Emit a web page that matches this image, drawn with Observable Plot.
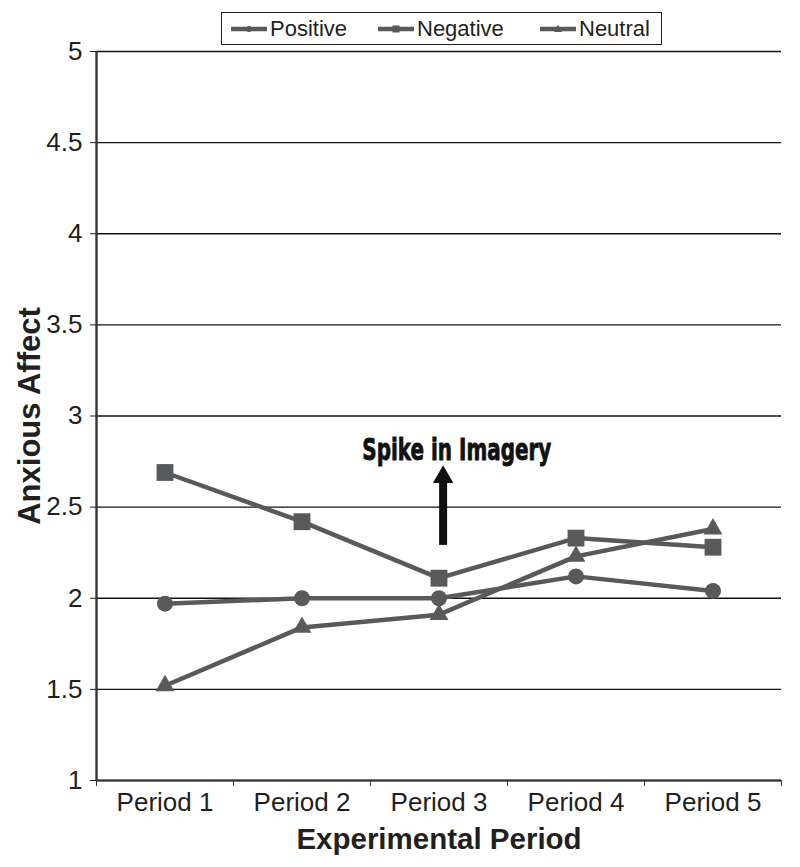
<!DOCTYPE html>
<html>
<head>
<meta charset="utf-8">
<script src="https://cdn.jsdelivr.net/npm/d3@7"></script>
<script src="https://cdn.jsdelivr.net/npm/@observablehq/plot@0.6"></script>
<style>
  body { margin: 0; background: #fff; font-family: "Liberation Sans", Arial, sans-serif; color: #231f20; }
  #legend { position: relative; width: 800px; height: 46px; }
  #legend .box { position: absolute; left: 221px; top: 12px; width: 439px; height: 31px; border: 1.5px solid #231f20; }
  #legend .item { position: absolute; top: 0; height: 31px; display: flex; align-items: center; font-size: 22px; }
  #legend svg { display: block; margin-right: 3px; }
  #chart svg { display: block; }
</style>
</head>
<body>
<div id="legend"><div class="box"></div></div>
<div id="chart"></div>
<script>
const periods = ["Period 1", "Period 2", "Period 3", "Period 4", "Period 5"];
const seriesNames = ["Positive", "Negative", "Neutral"];
const positive = [1.97, 2.00, 2.00, 2.12, 2.04];
const negative = [2.69, 2.42, 2.11, 2.33, 2.28];
const neutral  = [1.52, 1.84, 1.91, 2.23, 2.38];
const yTicks = [1, 1.5, 2, 2.5, 3, 3.5, 4, 4.5, 5];
const annotationText = "Spike in Imagery";
const xLabel = "Experimental Period";
const yLabel = "Anxious Affect";

const gray = "#58595b";
const ink = "#231f20";
const symbols = {Positive: "circle", Negative: "square", Neutral: "triangle"};
const radii = {Positive: 8, Negative: 9.5, Neutral: 7};
const valuesBySeries = {Positive: positive, Negative: negative, Neutral: neutral};

const rows = seriesNames.flatMap(s => valuesBySeries[s].map((v, i) => ({series: s, period: i + 1, value: v})));
const xPos = periods.map((_, i) => i + 1);
const boundaries = d3.range(0.5, periods.length + 1, 1);

// Legend (HTML)
const legend = document.querySelector("#legend .box");
const legendLeft = {Positive: 9, Negative: 156, Neutral: 318};
for (const s of seriesNames) {
  const item = document.createElement("div");
  item.className = "item";
  item.style.left = legendLeft[s] + "px";
  const w = 36;
  let marker = "";
  if (s === "Positive") marker = `<circle cx="18" cy="8" r="3" fill="${gray}"/>`;
  if (s === "Negative") marker = `<rect x="14.5" y="4.5" width="7" height="7" fill="${gray}"/>`;
  if (s === "Neutral") marker = `<path d="M18,3.5 L22,11 L14,11 Z" fill="${gray}"/>`;
  item.innerHTML = `<svg width="${w}" height="16"><line x1="0" x2="${w}" y1="8" y2="8" stroke="${gray}" stroke-width="4.5"/>${marker}</svg><span>${s}</span>`;
  legend.appendChild(item);
}

const marks = [
  Plot.gridY(yTicks, {stroke: "#111", strokeOpacity: 1, strokeWidth: 1.3}),
  Plot.axisY(yTicks, {tickSize: 6, tickPadding: 8, fontSize: 26, tickFormat: d => String(d), label: null, stroke: ink, fill: ink}),
  Plot.ruleX([0.5], {stroke: "#333", strokeWidth: 2.4}),
  Plot.ruleY([1], {stroke: "#333", strokeWidth: 2}),
  Plot.axisX(boundaries, {tickSize: 6, tickFormat: () => "", label: null, stroke: "#333"}),
  Plot.axisX(xPos, {tickSize: 0, tickPadding: 12, fontSize: 26, tickFormat: i => periods[i - 1], label: null, fill: ink}),
  Plot.line(rows, {x: "period", y: "value", z: "series", stroke: gray, strokeWidth: 4.5}),
  ...seriesNames.map(s => Plot.dot(rows.filter(d => d.series === s), {x: "period", y: "value", symbol: symbols[s], r: radii[s], fill: gray, stroke: "none"})),
  // annotation arrow
  Plot.ruleX([3.03], {y1: 2.29, y2: 2.64, stroke: "#111", strokeWidth: 8}),
  Plot.dot([3.03], {x: d => d, y: 2.665, symbol: "triangle", r: 7.6, fill: "#111"}),
  Plot.text([annotationText], {x: 3.13, y: 2.81, fontSize: 30, fontWeight: "bold", fontFamily: "'DejaVu Sans', sans-serif", fill: "#111", stroke: "#111", strokeWidth: 0.9, className: "spike"}),
  Plot.text([yLabel], {frameAnchor: "left", textAnchor: "middle", lineAnchor: "middle", dx: -66, rotate: -90, fontSize: 31, fontWeight: "bold", fill: ink}),
  Plot.text([xLabel], {frameAnchor: "bottom", textAnchor: "middle", lineAnchor: "middle", dy: 59, fontSize: 29.5, fontWeight: "bold", fill: ink})
];

const chart = Plot.plot({
  width: 800,
  height: 821,
  marginTop: 5,
  marginBottom: 87,
  marginLeft: 96,
  marginRight: 19,
  style: {fontFamily: "'Liberation Sans', Arial, sans-serif", color: ink, background: "#fff", overflow: "visible"},
  x: {type: "linear", domain: [0.5, periods.length + 0.5], axis: null},
  y: {domain: [1, 5], axis: null},
  marks
});
// condense the annotation text to the reference's narrow, heavy look
chart.querySelectorAll(".spike text").forEach(t => {
  t.setAttribute("textLength", "189");
  t.setAttribute("lengthAdjust", "spacingAndGlyphs");
});
document.getElementById("chart").appendChild(chart);
</script>
</body>
</html>
